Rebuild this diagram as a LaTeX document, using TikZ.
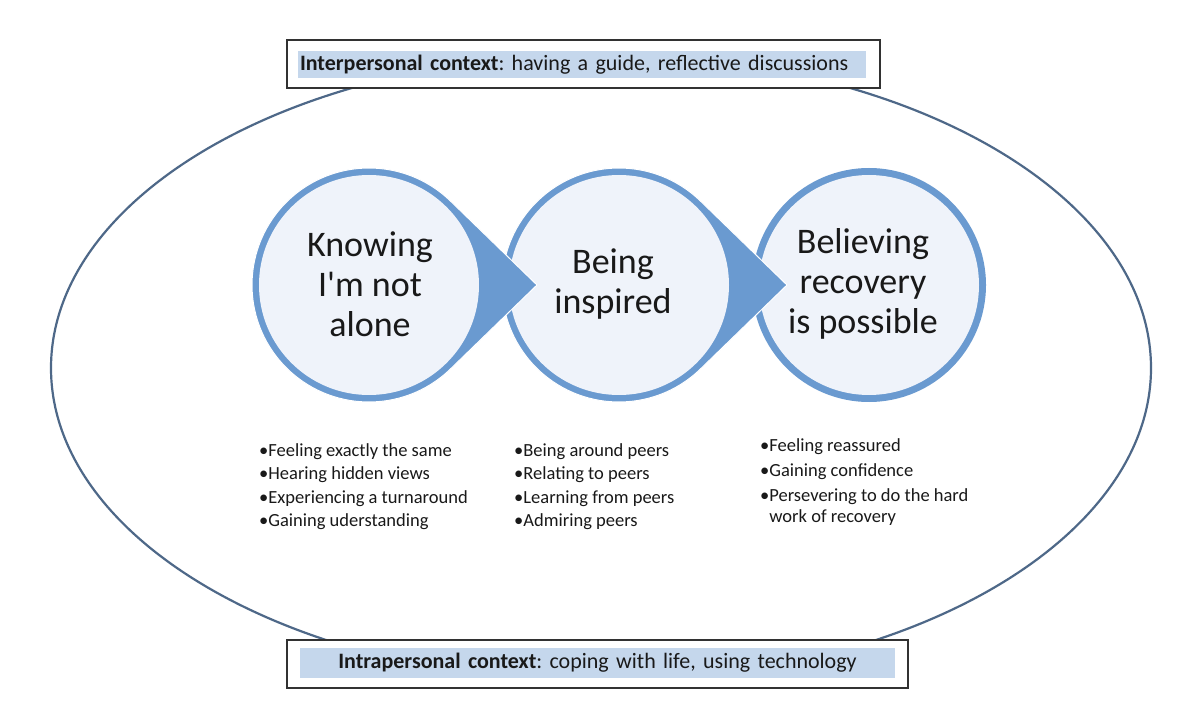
\documentclass[tikz,border=0pt]{standalone}
\usepackage{fontspec}
\setmainfont{Carlito}[Ligatures=TeXOff]
\usetikzlibrary{calc}
\definecolor{ringblue}{RGB}{106,154,208}
\definecolor{inner}{RGB}{239,243,250}
\definecolor{hdr}{RGB}{197,215,236}
\definecolor{ellcol}{RGB}{78,104,136}
\definecolor{boxline}{RGB}{50,50,50}
\definecolor{txt}{RGB}{25,25,25}
\frenchspacing
\tikzset{
  bigtext/.style={align=center, text=txt, font=\fontsize{36}{40}\selectfont},
  listtext/.style={align=left, anchor=north west, text=txt, font=\fontsize{18.5}{23.5}\selectfont, inner sep=0pt},
  outerbox/.style={draw=boxline, line width=1.8pt, fill=white, inner sep=0pt},
  hdrbox/.style={fill=hdr, text=txt, inner sep=0pt, font=\fontsize{22}{25}\selectfont},
  ring/.style={fill=ringblue},
  core/.style={fill=inner},
}
\begin{document}
\begin{tikzpicture}[x=1pt,y=-1pt]
\useasboundingbox (0,0) rectangle (1200,711);
\fill[white] (0,0) rectangle (1200,711);
% big context ellipse
\draw[ellcol, line width=2.2pt] (601,368) ellipse[x radius=550, y radius=314];
% circle centres
\coordinate (c1) at (369,285);
\coordinate (c2) at (619,285);
\coordinate (c3) at (869,285);
% circle 3
\fill[ring] (c3) circle[radius=117];
\fill[core] (c3) circle[radius=110];
% circle 2 (teardrop)
\fill[ring, draw=white, line width=1pt] (c2) ++(46.3:117) arc[start angle=46.3, end angle=313.7, radius=117] -- ($(c2)+(168,0)$) -- cycle;
\fill[core] (c2) circle[radius=110];
% circle 1 (teardrop)
\fill[ring, draw=white, line width=1pt] (c1) ++(46.3:117) arc[start angle=46.3, end angle=313.7, radius=117] -- ($(c1)+(168,0)$) -- cycle;
\fill[core] (c1) circle[radius=110];
% circle texts
\node[bigtext] (t1) at (370,284) {Knowing\\I'm not\\alone};
\node[bigtext] (t2) at (613,284) {Being\\inspired};
\node[bigtext] (t3) at (863,284) {Believing\\recovery\\is possible};
% lists
\node[listtext] (l1) at (259,443) {\textbullet Feeling exactly the same\\\textbullet Hearing hidden views\\\textbullet Experiencing a turnaround\\\textbullet Gaining uderstanding};
\node[listtext] (l2) at (514,443) {\textbullet Being around peers\\\textbullet Relating to peers\\\textbullet Learning from peers\\\textbullet Admiring peers};
\node[listtext] (l3) at (760,438) {\textbullet Feeling reassured\\[1.5pt]\textbullet Gaining confidence\\[1.5pt]\textbullet Persevering to do the hard\\[-2pt]\phantom{\textbullet}work of recovery};
% top context box
\node[outerbox, minimum width=593, minimum height=48] (topbox) at (583.5,64) {};
\node[hdrbox, minimum height=27, text width=568, align=left] (toptext) at (582,65) {\hspace*{2pt}\textbf{Interpersonal context}: having a guide, reflective discussions};
% bottom context box
\node[outerbox, minimum width=621, minimum height=48] (botbox) at (597.5,664) {};
\node[hdrbox, minimum height=30, text width=595, align=center] (bottext) at (597.5,663) {\textbf{Intrapersonal context}: coping with life, using technology};
\end{tikzpicture}
\end{document}
